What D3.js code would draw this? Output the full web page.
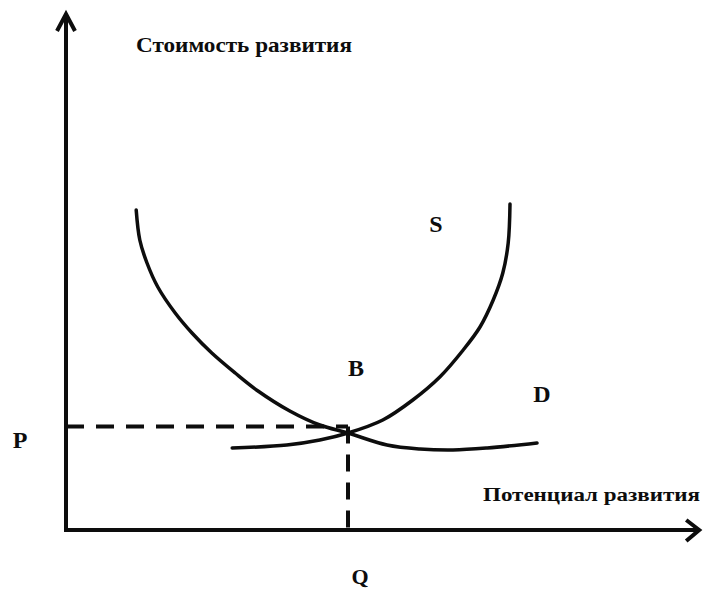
<!DOCTYPE html>
<html><head><meta charset="utf-8">
<script src="https://cdn.jsdelivr.net/npm/d3@7"></script>
<style>html,body{margin:0;padding:0;background:#fff;}svg{display:block;}</style>
</head><body>
<svg id="chart" width="703" height="591"></svg>
<script>
// ---- data (arbitrary units) ----
const demandX = [11.7, 12.3, 13.5, 15.3, 18.2, 21.0, 24.3, 28.2, 32.0, 37.3, 42.3, 47.0, 53.5, 59.0, 64.5, 70.2, 78.5];
const demandY = [64.0, 58.0, 53.4, 48.6, 43.4, 39.4, 35.4, 31.4, 27.8, 23.8, 21.0, 19.4, 17.0, 16.2, 16.0, 16.4, 17.4];
const supplyX = [27.7, 36.8, 42.3, 47.0, 52.8, 57.8, 62.3, 66.2, 69.0, 71.2, 72.8, 73.7, 74.0];
const supplyY = [16.4, 17.0, 18.0, 19.4, 22.0, 26.0, 30.6, 36.0, 40.6, 46.0, 51.4, 57.4, 65.2];
const equilibriumQ = 47.0;
const equilibriumP = 20.7;
const axisMax = [105.7, 103.4];
const yAxisTitle = "Стоимость развития";
const xAxisTitle = "Потенциал развития";
const curveLabels = ["S", "D", "B"];
const axisLetters = ["P", "Q"];

// ---- scales ----
const svg = d3.select("#chart");
const x = d3.scaleLinear().domain([0, 100]).range([66, 666]);
const y = d3.scaleLinear().domain([0, 100]).range([530, 30]);

const ink = "#0d0d0d";
const font = "'Liberation Serif','Times New Roman',serif";

const line = d3.line().x(d => x(d[0])).y(d => y(d[1])).curve(d3.curveCatmullRom.alpha(0.5));

// dashed guide lines
svg.append("path")
  .attr("d", d3.line()([[x(0), y(equilibriumP)], [x(equilibriumQ), y(equilibriumP)]]))
  .attr("stroke", ink).attr("stroke-width", 4).attr("stroke-dasharray", "18,12").attr("fill", "none");
svg.append("path")
  .attr("d", d3.line()([[x(equilibriumQ), y(equilibriumP)], [x(equilibriumQ), y(0)]]))
  .attr("stroke", ink).attr("stroke-width", 4).attr("stroke-dasharray", "17,11").attr("fill", "none");

// curves
svg.append("path")
  .datum(demandX.map((v, i) => [v, demandY[i]]))
  .attr("d", line).attr("fill", "none").attr("stroke", ink).attr("stroke-width", 3.5).attr("stroke-linecap", "round");
svg.append("path")
  .datum(supplyX.map((v, i) => [v, supplyY[i]]))
  .attr("d", line).attr("fill", "none").attr("stroke", ink).attr("stroke-width", 3.5).attr("stroke-linecap", "round");

// axes with open arrowheads
const x0 = x(0), y0 = y(0), xEnd = x(axisMax[0]), yEnd = y(axisMax[1]);
svg.append("path")
  .attr("d", `M${x0},${y0 + 2}L${x0},${yEnd + 2}`)
  .attr("stroke", ink).attr("stroke-width", 4).attr("fill", "none");
svg.append("path")
  .attr("d", `M${x0 - 2},${y0}L${xEnd - 2},${y0}`)
  .attr("stroke", ink).attr("stroke-width", 4).attr("fill", "none");
svg.append("path")
  .attr("d", `M${x0 - 9},${yEnd + 18}L${x0},${yEnd + 1}L${x0 + 9},${yEnd + 18}`)
  .attr("stroke", ink).attr("stroke-width", 4).attr("fill", "none").attr("stroke-linejoin", "miter");
svg.append("path")
  .attr("d", `M${xEnd - 14},${y0 - 10}L${xEnd - 1},${y0}L${xEnd - 14},${y0 + 11}`)
  .attr("stroke", ink).attr("stroke-width", 4).attr("fill", "none").attr("stroke-linejoin", "miter");

// axis titles
svg.append("text").text(yAxisTitle)
  .attr("x", 136).attr("y", 52)
  .attr("font-family", font).attr("font-weight", "bold").attr("font-size", 21)
  .attr("textLength", 216).attr("lengthAdjust", "spacingAndGlyphs").attr("fill", ink);
svg.append("text").text(xAxisTitle)
  .attr("x", 483).attr("y", 501)
  .attr("font-family", font).attr("font-weight", "bold").attr("font-size", 19)
  .attr("textLength", 217).attr("lengthAdjust", "spacingAndGlyphs").attr("fill", ink);

// curve labels
const labelPos = {S: [436, 232], D: [542, 402], B: [356, 376], P: [20, 448], Q: [360, 584]};
curveLabels.concat(axisLetters).forEach(t => {
  svg.append("text").text(t)
    .attr("x", labelPos[t][0]).attr("y", labelPos[t][1])
    .attr("text-anchor", "middle")
    .attr("font-family", font).attr("font-weight", "bold").attr("font-size", t === "Q" ? 22 : 24).attr("fill", ink);
});
</script>
</body></html>
